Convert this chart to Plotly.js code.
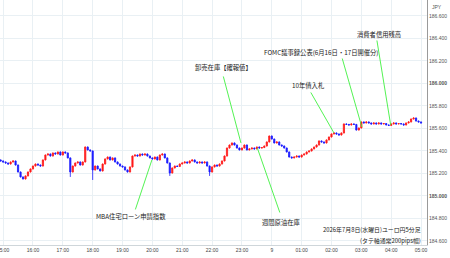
<!DOCTYPE html>
<html><head><meta charset="utf-8">
<script src="https://cdn.plot.ly/plotly-3.0.1.min.js"></script>
<style>html,body{margin:0;padding:0;background:#fff}#c{width:450px;height:258px}</style>
</head><body><div id="c"></div>
<script>
// EUR/JPY 5-minute candles, 2026-07-08 14:55 -> 2026-07-09 05:00
const firstBar = '2026-07-08T14:55:00Z';
const barMinutes = 5;

const openP = [185.320,185.311,185.302,185.293,185.284,185.302,185.311,185.275,185.213,185.169,185.151,185.178,185.213,
185.240,185.266,185.284,185.275,185.266,185.320,185.364,185.373,185.355,185.382,185.373,185.391,
185.364,185.391,185.382,185.338,185.213,185.266,185.293,185.302,185.275,185.302,185.435,185.409,
185.400,185.231,185.266,185.240,185.222,185.284,185.329,185.346,185.320,185.338,185.302,185.284,
185.266,185.258,185.231,185.213,185.258,185.355,185.364,185.355,185.373,185.364,185.373,185.355,
185.338,185.329,185.346,185.320,185.364,185.373,185.338,185.293,185.204,185.249,185.266,185.262,
185.284,185.293,185.302,185.293,185.311,185.320,185.302,185.293,185.302,185.293,185.302,185.266,
185.213,185.258,185.275,185.266,185.284,185.311,185.355,185.426,185.453,185.471,185.453,185.426,
185.409,185.426,185.453,185.409,185.418,185.426,185.418,185.435,185.426,185.430,185.444,185.480,
185.533,185.506,185.471,185.480,185.453,185.444,185.426,185.391,185.346,185.338,185.346,185.355,
185.346,185.364,185.373,185.391,185.400,185.418,185.435,185.453,185.489,185.480,185.471,185.498,
185.524,185.551,185.560,185.551,185.542,185.560,185.640,185.636,185.631,185.640,185.636,185.586,
185.604,185.658,185.649,185.658,185.649,185.640,185.649,185.640,185.649,185.640,185.644,185.631,
185.627,185.640,185.649,185.640,185.644,185.640,185.631,185.649,185.658,185.684,185.693,185.666,
185.658];

const highP = [185.324,185.316,185.306,185.297,185.306,185.316,185.314,185.279,185.217,185.173,185.182,185.217,185.244,
185.270,185.288,185.288,185.279,185.324,185.368,185.377,185.377,185.386,185.386,185.395,185.395,
185.395,185.395,185.386,185.342,185.270,185.297,185.306,185.306,185.306,185.440,185.440,185.413,
185.404,185.270,185.270,185.244,185.288,185.333,185.350,185.350,185.342,185.342,185.306,185.288,
185.270,185.262,185.235,185.262,185.359,185.368,185.368,185.377,185.377,185.377,185.377,185.359,
185.342,185.350,185.350,185.368,185.377,185.377,185.342,185.297,185.253,185.270,185.270,185.288,
185.297,185.306,185.306,185.315,185.324,185.324,185.306,185.306,185.306,185.306,185.306,185.270,
185.262,185.279,185.279,185.288,185.315,185.359,185.430,185.457,185.475,185.475,185.457,185.430,
185.430,185.457,185.457,185.422,185.430,185.430,185.439,185.439,185.434,185.448,185.484,185.537,
185.537,185.510,185.484,185.484,185.457,185.448,185.430,185.395,185.350,185.350,185.359,185.359,
185.368,185.377,185.395,185.404,185.422,185.439,185.457,185.493,185.493,185.484,185.502,185.528,
185.555,185.564,185.564,185.555,185.564,185.644,185.644,185.640,185.644,185.644,185.640,185.608,
185.662,185.662,185.662,185.662,185.653,185.653,185.653,185.653,185.653,185.648,185.648,185.635,
185.644,185.653,185.653,185.648,185.648,185.644,185.653,185.662,185.688,185.697,185.697,185.670,
185.662];

const lowP = [185.307,185.298,185.289,185.280,185.280,185.298,185.271,185.209,185.165,185.147,185.147,185.174,185.209,
185.236,185.262,185.271,185.262,185.262,185.316,185.360,185.351,185.351,185.369,185.369,185.360,
185.360,185.378,185.334,185.169,185.209,185.262,185.289,185.271,185.271,185.298,185.405,185.396,
185.142,185.227,185.236,185.218,185.218,185.280,185.325,185.316,185.316,185.298,185.280,185.262,
185.254,185.227,185.209,185.209,185.254,185.351,185.351,185.351,185.360,185.360,185.351,185.334,
185.325,185.325,185.316,185.316,185.360,185.334,185.289,185.178,185.200,185.245,185.258,185.258,
185.280,185.289,185.289,185.289,185.307,185.298,185.289,185.289,185.289,185.289,185.262,185.178,
185.209,185.254,185.262,185.262,185.280,185.307,185.351,185.422,185.449,185.449,185.422,185.405,
185.405,185.422,185.405,185.405,185.414,185.414,185.414,185.422,185.422,185.426,185.440,185.476,
185.502,185.467,185.467,185.449,185.440,185.422,185.387,185.342,185.334,185.334,185.342,185.342,
185.342,185.360,185.369,185.387,185.396,185.414,185.431,185.449,185.476,185.467,185.467,185.494,
185.520,185.547,185.547,185.538,185.538,185.556,185.632,185.627,185.627,185.632,185.582,185.582,
185.600,185.645,185.645,185.645,185.636,185.636,185.636,185.636,185.636,185.636,185.627,185.623,
185.623,185.636,185.636,185.636,185.636,185.627,185.627,185.645,185.654,185.680,185.662,185.654,
185.645];

const closeP = [185.311,
185.302,185.293,185.284,185.302,185.311,185.275,185.213,185.169,185.151,185.178,185.213,185.240,
185.266,185.284,185.275,185.266,185.320,185.364,185.373,185.355,185.382,185.373,185.391,185.364,
185.391,185.382,185.338,185.213,185.266,185.293,185.302,185.275,185.302,185.435,185.409,185.400,
185.231,185.266,185.240,185.222,185.284,185.329,185.346,185.320,185.338,185.302,185.284,185.266,
185.258,185.231,185.213,185.258,185.355,185.364,185.355,185.373,185.364,185.373,185.355,185.338,
185.329,185.346,185.320,185.364,185.373,185.338,185.293,185.204,185.249,185.266,185.262,185.284,
185.293,185.302,185.293,185.311,185.320,185.302,185.293,185.302,185.293,185.302,185.266,185.213,
185.258,185.275,185.266,185.284,185.311,185.355,185.426,185.453,185.471,185.453,185.426,185.409,
185.426,185.453,185.409,185.418,185.426,185.418,185.435,185.426,185.430,185.444,185.480,185.533,
185.506,185.471,185.480,185.453,185.444,185.426,185.391,185.346,185.338,185.346,185.355,185.346,
185.364,185.373,185.391,185.400,185.418,185.435,185.453,185.489,185.480,185.471,185.498,185.524,
185.551,185.560,185.551,185.542,185.560,185.640,185.636,185.631,185.640,185.636,185.586,185.604,
185.658,185.649,185.658,185.649,185.640,185.649,185.640,185.649,185.640,185.644,185.631,185.627,
185.640,185.649,185.640,185.644,185.640,185.631,185.649,185.658,185.684,185.693,185.666,185.658,
185.649];

const hourTicks = ['2026-07-08 15:00','2026-07-08 16:00','2026-07-08 17:00','2026-07-08 18:00','2026-07-08 19:00',
'2026-07-08 20:00','2026-07-08 21:00','2026-07-08 22:00','2026-07-08 23:00','2026-07-09 00:00',
'2026-07-09 01:00','2026-07-09 02:00','2026-07-09 03:00','2026-07-09 04:00','2026-07-09 05:00'];
const hourLabels = ['15:00','16:00','17:00','18:00','19:00','20:00','21:00','22:00','23:00','9',
'01:00','02:00','03:00','04:00','05:00'];
const priceTicks = [184.6,184.8,185.0,185.2,185.4,185.6,185.8,186.0,186.2,186.4,186.6];

// economic events: label, time, price of the candle pointed at
const eventNames = ['卸売在庫【確報値】','10年債入札','FOMC議事録公表(6月16日・17日開催分)','消費者信用残高','MBA住宅ローン申請指数','週間原油在庫'];
const eventTimes = ['2026-07-08 22:58','2026-07-09 02:05','2026-07-09 03:01','2026-07-09 03:59','2026-07-08 19:59','2026-07-08 23:31'];
const eventPrices = [185.471,185.560,185.613,185.631,185.320,185.426];

function fmt(d){const p=n=>String(n).padStart(2,'0');
  return d.getUTCFullYear()+'-'+p(d.getUTCMonth()+1)+'-'+p(d.getUTCDate())+' '+p(d.getUTCHours())+':'+p(d.getUTCMinutes());}
const t0 = new Date(firstBar).getTime();
const times = closeP.map((_,i)=>fmt(new Date(t0+i*barMinutes*60000)));

const trace = {
  type:'candlestick', x:times, open:openP, high:highP, low:lowP, close:closeP,
  increasing:{line:{color:'#ff1a1a',width:0.8},fillcolor:'#ff1a1a'},
  decreasing:{line:{color:'#1a1aff',width:0.8},fillcolor:'#1a1aff'},
  whiskerwidth:0, hoverinfo:'skip', showlegend:false
};

// callout layout (pixel offsets: line start, text centre)
const lineOff = [[-18,-68],[-24,-42],[-20,-70],[-14,-86],[-17,51],[23,66]];
const textOff = [[-17,75],[-25,47],[-40,75],[-12,90],[-21,-57],[24,-74]];
const green = '#3ff03f';
const annFont = {family:'"Noto Sans CJK JP", sans-serif', size:6.3, color:'#222'};
const noteFont = {family:'"Noto Sans CJK JP", sans-serif', size:5.9, color:'#222'};
const anns = [];
eventNames.forEach((nm,i)=>{
  anns.push({x:eventTimes[i], y:eventPrices[i], xref:'x', yref:'y', text:'', showarrow:true,
    arrowhead:0, arrowwidth:0.9, arrowcolor:green, ax:lineOff[i][0], ay:lineOff[i][1], standoff:0});
  anns.push({x:eventTimes[i], y:eventPrices[i], xref:'x', yref:'y', text:nm, showarrow:false,
    xshift:textOff[i][0], yshift:textOff[i][1], font:annFont, xanchor:'center', yanchor:'middle'});
});
anns.push({xref:'paper',yref:'paper',x:0.989,y:0.062,text:'2026年7月8日(水曜日)ユーロ円5分足',showarrow:false,
  xanchor:'right',yanchor:'middle',font:noteFont, borderpad:0});
anns.push({xref:'paper',yref:'paper',x:0.989,y:0.020,text:'(タテ軸通常200pips幅)',showarrow:false,
  xanchor:'right',yanchor:'middle',font:noteFont, borderpad:0});
anns.push({xref:'paper',yref:'paper',x:1.023,y:0.972,text:'JPY',showarrow:false,
  xanchor:'center',yanchor:'middle',font:{family:'Liberation Sans, sans-serif',size:5,color:'#555'}});

const layout = {
  width:450, height:258, margin:{l:0,r:23,t:0,b:13}, paper_bgcolor:'#fff', plot_bgcolor:'#fff',
  showlegend:false, dragmode:false,
  xaxis:{type:'date', range:['2026-07-08 14:53:42','2026-07-09 05:12'], rangeslider:{visible:false},
    tickmode:'array', tickvals:hourTicks, ticktext:hourLabels, showgrid:true, gridcolor:'#e9f0f4', gridwidth:1,
    showline:true, linecolor:'#cfd6da', linewidth:1, ticks:'', zeroline:false, ticklabeloverflow:'allow',
    tickfont:{family:'Liberation Sans, sans-serif', size:5, color:'#444'}},
  yaxis:{side:'right', range:[184.564,186.742], tickmode:'array', tickvals:priceTicks,
    ticktext:priceTicks.map(v=>{const s=v.toFixed(3); return (Math.abs(v-Math.round(v))<1e-9)?'<b>'+s+'</b>':s;}),
    showgrid:true, gridcolor:'#e9f0f4', gridwidth:1, showline:true, linecolor:'#9a9a9a', linewidth:1,
    ticks:'', zeroline:false, tickfont:{family:'Liberation Sans, sans-serif', size:5, color:'#555'}},
  annotations:anns
};
Plotly.newPlot('c',[trace],layout,{staticPlot:true,displayModeBar:false});
</script></body></html>
